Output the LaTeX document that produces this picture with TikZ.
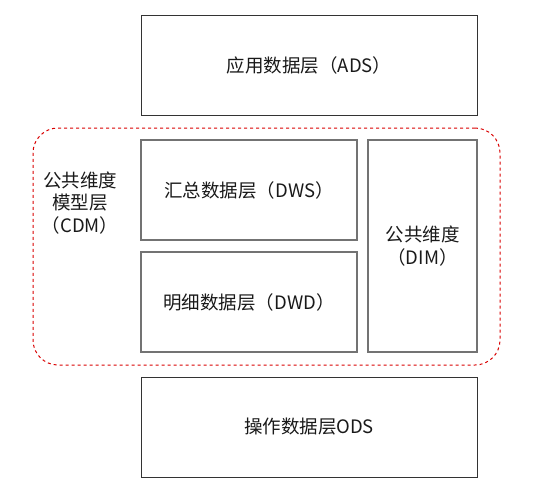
\documentclass[tikz,border=0pt]{standalone}
\usepackage{fontspec}
\setmainfont{Noto Sans CJK SC}
\begin{document}
\begin{tikzpicture}
[x=1pt,y=-1pt,
  layerdecorate/.style={shape=rectangle,draw=black!80,line width=1pt,inner sep=0pt,text=black!90,
    font=\fontsize{18.5}{22.5}\selectfont,align=center},%
  sublayerdecorate/.style={layerdecorate,draw=black!55,line width=1.2pt},%
  groupdecorate/.style={shape=rectangle,draw=red!85!black,dashed,dash pattern=on 3pt off 3pt,
    line width=1pt,rounded corners=25pt,inner sep=0pt}]
\useasboundingbox (0,0) rectangle (543,501);
% group frame
\node (cdm) at (266.5,246.5) [groupdecorate,minimum width=467pt,minimum height=237pt] {};
\node (cdmlabel) at (80,203) [layerdecorate,draw=none] {公共维度\\模型层\\（CDM）};
% layers
\node (ads) at (309,65) [layerdecorate,minimum width=336pt,minimum height=100pt] {应用数据层（ADS）};
\node (dws) at (249,190) [sublayerdecorate,minimum width=216pt,minimum height=100pt] {汇总数据层（DWS）};
\node (dwd) at (249,302) [sublayerdecorate,minimum width=216pt,minimum height=100pt] {明细数据层（DWD）};
\node (dim) at (422.5,246) [sublayerdecorate,minimum width=109pt,minimum height=212pt] {公共维度\\（DIM）};
\node (ods) at (309,427) [layerdecorate,minimum width=336pt,minimum height=100pt] {操作数据层ODS};
\end{tikzpicture}
\end{document}
